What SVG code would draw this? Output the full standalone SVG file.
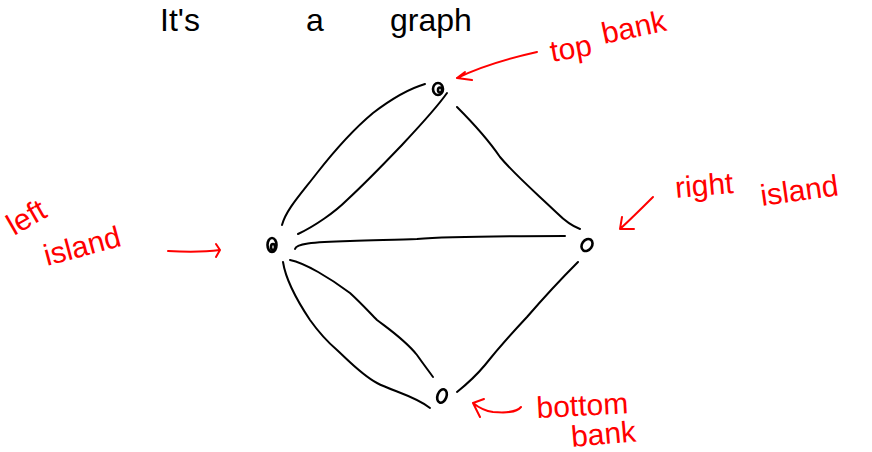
<svg xmlns="http://www.w3.org/2000/svg" width="872" height="452" viewBox="0 0 872 452">
<style>
.e{fill:none;stroke:#000;stroke-width:2;stroke-linecap:round;stroke-linejoin:round}
.n{fill:none;stroke:#000;stroke-width:2.6}
.a{fill:none;stroke:#f00;stroke-width:2;stroke-linecap:round;stroke-linejoin:round}
.t{fill:#f00;font-family:"Liberation Sans",sans-serif;font-size:30px}
.h{fill:#000;font-family:"Liberation Sans",sans-serif;font-size:32px}
</style>
<rect width="872" height="452" fill="#fff"/>
<g id="title">
<text class="h" x="160" y="31">It's</text>
<text class="h" x="306" y="31">a</text>
<text class="h" x="390" y="31">graph</text>
</g>
<g id="edges">
<path class="e" d="M282,225 C286,210 300,195 317,173 C335,150 355,128 373,113 C390,100 408,89 425,84"/>
<path class="e" d="M298,234 C315,226 335,212 347,200 C360,188 378,170 400,147 C415,131 435,110 447,93"/>
<path class="e" d="M457,107 C470,120 485,135 500,157 C515,175 535,192 557,213 C565,221 572,226 580,229"/>
<path class="e" d="M295,249 C296,244 310,242 350,241 C380,240 400,240 417,239 C440,237 470,236 565,236"/>
<path class="e" d="M290,260 C305,263 330,278 350,293 C362,304 370,313 377,320 C390,330 405,340 417,355 C424,365 428,370 433,377"/>
<path class="e" d="M283,262 C285,275 292,293 310,320 C320,334 330,344 337,350 C350,362 362,375 377,383 C392,391 415,396 430,408"/>
<path class="e" d="M457,392 C467,384 475,377 485,365 C497,350 512,333 527,317 C540,302 558,282 578,262"/>
</g>
<g id="node-top"><ellipse class="n" cx="438" cy="89" rx="5" ry="6"/><ellipse class="n" cx="440" cy="90" rx="2" ry="2.5"/></g>
<g id="node-left"><ellipse class="n" cx="272" cy="245" rx="4.5" ry="7"/><ellipse class="n" cx="273" cy="247" rx="2" ry="3"/></g>
<g id="node-right"><ellipse class="n" cx="587" cy="245" rx="5" ry="6.5" transform="rotate(35 587 245)" stroke-width="3"/></g>
<g id="node-bottom"><ellipse class="n" cx="442" cy="396" rx="4.5" ry="7" transform="rotate(20 442 396)" stroke-width="3"/></g>
<g id="label-top-bank">
<path class="a" d="M537,52 C510,58 480,67 457,78 M457,78 L465,72 M457,78 L472,80"/>
<text class="t" transform="translate(552,62) rotate(-10)">top</text>
<text class="t" transform="translate(604,44) rotate(-12)">bank</text>
</g>
<g id="label-right-island">
<path class="a" d="M653,197 C643,207 632,218 620,229 M620,229 L622,217 M620,229 L634,229"/>
<text class="t" transform="translate(676,198) rotate(-5)">right</text>
<text class="t" transform="translate(762,206) rotate(-8)">island</text>
</g>
<g id="label-left-island">
<path class="a" d="M168,251 C185,252 205,252 220,250 M220,250 L216,244 M220,250 L216,257"/>
<text class="t" transform="translate(14,236) rotate(-30)">left</text>
<text class="t" transform="translate(47,266) rotate(-15)">island</text>
</g>
<g id="label-bottom-bank">
<path class="a" d="M521,407 C516,413 505,413 493,412 C485,411 478,407 473,403 M473,403 L484,399 M473,403 L480,417"/>
<text class="t" transform="translate(537,418) rotate(-3)">bottom</text>
<text class="t" transform="translate(572,447) rotate(-5)">bank</text>
</g>
</svg>
